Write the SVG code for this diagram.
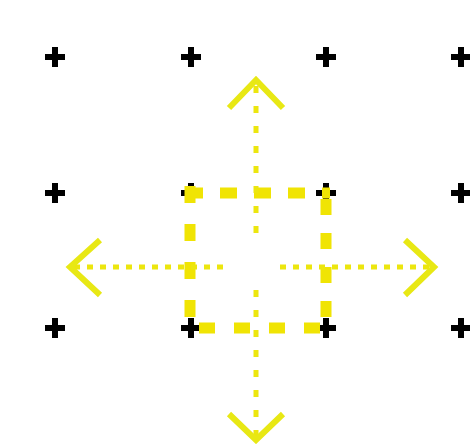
<svg xmlns="http://www.w3.org/2000/svg" width="470" height="444" viewBox="0 0 470 444">
<defs>
<style>
.plus{stroke:#000;stroke-width:6;fill:none}
.sq{stroke:#f0e404;stroke-width:11;fill:none}
.dot{stroke:#ece60e;stroke-width:5;fill:none}
.head{stroke:#e8e814;stroke-width:6;fill:none;stroke-linejoin:miter}
</style>
<path id="p" d="M-10,0H10M0,-10V10"/>
</defs>
<rect width="470" height="444" fill="#fff"/>
<g id="grid">
<use href="#p" class="plus" x="55" y="57"/>
<use href="#p" class="plus" x="191" y="57"/>
<use href="#p" class="plus" x="326" y="57"/>
<use href="#p" class="plus" x="461" y="57"/>
<use href="#p" class="plus" x="55" y="193"/>
<use href="#p" class="plus" x="191" y="193"/>
<use href="#p" class="plus" x="326" y="193"/>
<use href="#p" class="plus" x="461" y="193"/>
<use href="#p" class="plus" x="55" y="328"/>
<use href="#p" class="plus" x="191" y="328"/>
<use href="#p" class="plus" x="326" y="328"/>
<use href="#p" class="plus" x="461" y="328"/>
</g>
<g id="square">
<line class="sq" x1="186" y1="193" x2="330" y2="193" stroke-dasharray="17 17"/>
<line class="sq" x1="326" y1="199" x2="326" y2="330" stroke-dasharray="16 18"/>
<line class="sq" x1="190" y1="186" x2="190" y2="330" stroke-dasharray="17 21"/>
<line class="sq" x1="199" y1="328" x2="330" y2="328" stroke-dasharray="16 19"/>
</g>
<g id="connectors">
<line class="dot" x1="256" y1="86" x2="256" y2="240" stroke-dasharray="7 13"/>
<line class="dot" x1="256" y1="290" x2="256" y2="436" stroke-dasharray="7 13"/>
<line class="dot" x1="74" y1="267" x2="230" y2="267" stroke-dasharray="6 7"/>
<line class="dot" x1="280" y1="267" x2="430" y2="267" stroke-dasharray="6 7"/>
<polyline class="head" points="229,108 256,80 283,108"/>
<polyline class="head" points="229,414 256,440 283,414"/>
<polyline class="head" points="100,240 70,267 100,295"/>
<polyline class="head" points="405,240 434,267 405,295"/>
</g>
</svg>
